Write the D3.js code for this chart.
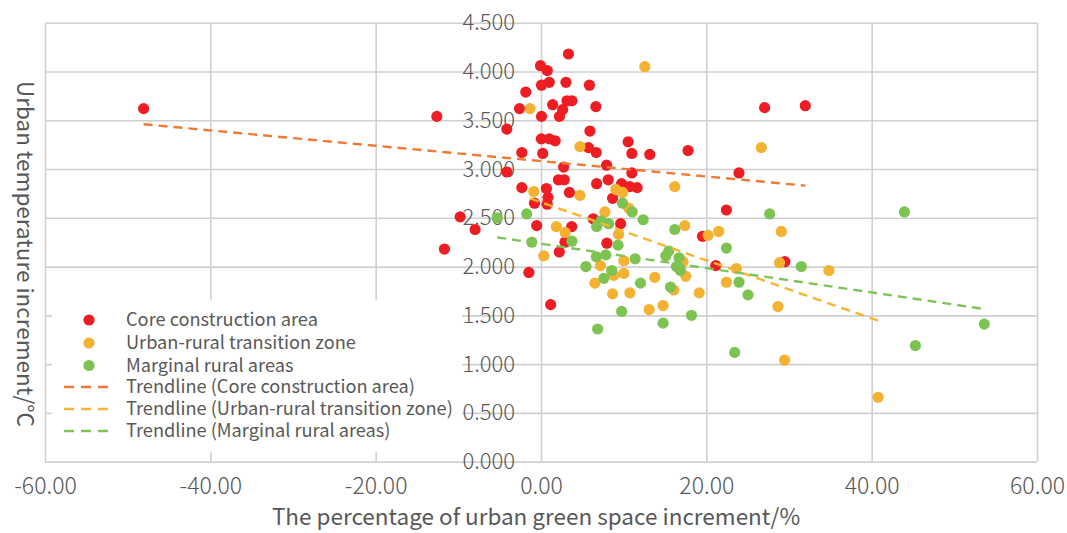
<!DOCTYPE html>
<html>
<head>
<meta charset="utf-8">
<script src="https://cdn.jsdelivr.net/npm/d3@7"></script>
<style>
  html, body { margin: 0; padding: 0; background: #fff; }
  svg { display: block; font-family: "Noto Sans CJK SC", "Noto Sans", sans-serif; }
</style>
</head>
<body>
<svg id="chart" width="1067" height="533"></svg>
<script>
// Core construction area: [green space increment %, temperature increment °C]
const coreArea = [
  [-48.07,3.62],[-12.60,3.54],[3.32,4.18],[-0.06,4.06],[0.76,4.01],[-1.84,3.79],[1.00,3.89],
  [0.06,3.86],[3.02,3.89],[5.86,3.86],[3.14,3.70],[3.74,3.70],[1.41,3.66],[-2.60,3.62],
  [2.62,3.61],[6.64,3.64],[2.23,3.54],[0.06,3.54],[-4.14,3.41],[5.92,3.39],[0.04,3.31],
  [1.00,3.31],[1.71,3.29],[5.74,3.22],[6.68,3.17],[-2.32,3.17],[0.21,3.16],[10.54,3.28],
  [10.99,3.16],[13.16,3.15],[17.79,3.19],[27.05,3.63],[31.97,3.65],[2.74,3.02],[7.93,3.04],
  [23.95,2.96],[10.99,2.96],[-4.14,2.97],[2.11,2.89],[2.81,2.89],[6.73,2.85],[8.13,2.89],
  [9.75,2.85],[10.75,2.82],[11.63,2.81],[-2.32,2.81],[0.66,2.80],[3.44,2.76],[0.85,2.71],
  [8.66,2.70],[-0.79,2.65],[0.75,2.64],[-9.78,2.51],[-7.97,2.38],[-11.68,2.18],[-0.52,2.42],
  [3.71,2.41],[6.32,2.49],[9.63,2.44],[22.43,2.58],[2.90,2.25],[7.97,2.24],[2.21,2.15],
  [19.53,2.31],[21.14,2.01],[29.50,2.05],[-1.47,1.94],[1.17,1.61]
];

// Urban-rural transition zone
const transitionZone = [
  [-1.33,3.62],[12.56,4.05],[4.71,3.23],[26.65,3.22],[-0.87,2.77],[4.71,2.73],[9.06,2.79],
  [9.87,2.76],[16.18,2.82],[10.59,2.60],[7.73,2.56],[1.85,2.41],[2.92,2.35],[9.38,2.33],
  [17.39,2.42],[20.21,2.32],[21.50,2.36],[29.07,2.36],[0.34,2.11],[10.02,2.06],[7.19,2.01],
  [17.19,2.05],[23.64,1.98],[28.86,2.04],[34.82,1.96],[10.02,1.93],[8.82,1.91],[13.77,1.89],
  [17.51,1.90],[6.52,1.83],[22.43,1.84],[8.66,1.72],[10.75,1.73],[16.06,1.76],[19.14,1.73],
  [13.08,1.56],[14.77,1.60],[28.66,1.59],[29.47,1.04],[40.78,0.66]
];

// Marginal rural areas
const marginalRural = [
  [-5.31,2.50],[-1.73,2.54],[-1.11,2.25],[3.74,2.26],[9.87,2.65],[11.03,2.56],[12.36,2.48],
  [7.28,2.47],[8.19,2.44],[6.73,2.41],[9.32,2.22],[6.70,2.10],[7.85,2.12],[11.39,2.08],
  [16.18,2.38],[15.10,2.11],[15.46,2.16],[16.70,2.09],[16.39,2.00],[16.87,1.96],[22.43,2.19],
  [27.66,2.54],[43.96,2.56],[31.49,2.00],[23.95,1.84],[25.04,1.71],[5.43,2.00],[8.55,1.96],
  [7.61,1.88],[12.04,1.83],[15.66,1.79],[9.75,1.54],[6.85,1.36],[14.77,1.42],[18.20,1.50],
  [23.43,1.12],[45.29,1.19],[53.62,1.41]
];

// Linear trendline end points: [x0, y0, x1, y1]
const trendCore = [-48.07, 3.46, 31.97, 2.83];
const trendTransition = [-1.33, 2.70, 40.78, 1.445];
const trendMarginal = [-5.31, 2.30, 53.62, 1.565];

// Tick values
const xTicks = [-60, -40, -20, 0, 20, 40, 60];
const yTicks = [0, 0.5, 1, 1.5, 2, 2.5, 3, 3.5, 4, 4.5];

const seriesNames = [
  "Core construction area",
  "Urban-rural transition zone",
  "Marginal rural areas"
];
const trendNames = [
  "Trendline (Core construction area)",
  "Trendline (Urban-rural transition zone)",
  "Trendline (Marginal rural areas)"
];

const dotColors = ["#EE1D23", "#F5B131", "#7DC352"];
const lineColors = ["#EE7A35", "#F8B530", "#7EC45A"];
const textColor = "#585858";
const fontStack = "'Noto Sans CJK SC', 'Noto Sans', sans-serif";

const svg = d3.select("#chart");

const x = d3.scaleLinear().domain([-60, 60]).range([45, 1037]);
const y = d3.scaleLinear().domain([0, 4.5]).range([461.6, 22.8]);

// Gridlines
const gridX = svg.append("g")
  .attr("transform", `translate(0,${y(0)})`)
  .call(d3.axisBottom(x).tickValues(xTicks).tickSize(-(y(0) - y(4.5))).tickFormat(""));
const gridY = svg.append("g")
  .attr("transform", `translate(${x(-60)},0)`)
  .call(d3.axisLeft(y).tickValues(yTicks).tickSize(-(x(60) - x(-60))).tickFormat(""));
[gridX, gridY].forEach(g => {
  g.select(".domain").remove();
  g.selectAll(".tick line").attr("stroke", "#d0d0d0").attr("stroke-width", 1.6);
});

// X tick labels
const xAxis = svg.append("g")
  .attr("transform", `translate(0,${y(0)})`)
  .call(d3.axisBottom(x).tickValues(xTicks).tickSize(0).tickPadding(16)
    .tickFormat(d => d.toFixed(2)));
xAxis.select(".domain").remove();
xAxis.selectAll("text")
  .attr("font-size", 23).attr("fill", textColor)
  .attr("font-family", fontStack)
  .attr("font-weight", 300);

// Y tick labels sit beside the x = 0 gridline
const yAxis = svg.append("g")
  .attr("transform", `translate(${x(0)},0)`)
  .call(d3.axisLeft(y).tickValues(yTicks).tickSize(0).tickPadding(26)
    .tickFormat(d => d.toFixed(3)));
yAxis.select(".domain").remove();
yAxis.selectAll("text")
  .attr("font-size", 22).attr("fill", textColor)
  .attr("font-family", fontStack)
  .attr("font-weight", 300);

// Scatter points
const allSeries = [coreArea, transitionZone, marginalRural];
allSeries.forEach((data, i) => {
  svg.append("g").selectAll("circle")
    .data(data)
    .join("circle")
    .attr("cx", d => x(d[0]))
    .attr("cy", d => y(d[1]))
    .attr("r", 5.6)
    .attr("fill", dotColors[i]);
});

// Trendlines
[trendCore, trendTransition, trendMarginal].forEach((t, i) => {
  svg.append("line")
    .attr("x1", x(t[0])).attr("y1", y(t[1]))
    .attr("x2", x(t[2])).attr("y2", y(t[3]))
    .attr("stroke", lineColors[i])
    .attr("stroke-width", 2.4)
    .attr("stroke-dasharray", "9,6");
});

// Legend
const legend = svg.append("g");
legend.append("rect")
  .attr("x", 52).attr("y", 300).attr("width", 410).attr("height", 152)
  .attr("fill", "#fff");
const rowY = [320, 343, 365.5, 387, 409, 431];
const labels = seriesNames.concat(trendNames);
labels.forEach((name, i) => {
  const ry = rowY[i];
  if (i < 3) {
    legend.append("circle").attr("cx", 89).attr("cy", ry).attr("r", 5.6)
      .attr("fill", dotColors[i]);
  } else {
    legend.append("line")
      .attr("x1", 64).attr("x2", 114).attr("y1", ry).attr("y2", ry)
      .attr("stroke", lineColors[i - 3]).attr("stroke-width", 2.4)
      .attr("stroke-dasharray", "10,7");
  }
  legend.append("text")
    .attr("x", 126).attr("y", ry).attr("dy", "0.35em")
    .attr("font-size", 18.2).attr("fill", textColor)
    .text(name);
});

// Axis titles
svg.append("text")
  .attr("transform", "translate(25,254) rotate(90)")
  .attr("text-anchor", "middle").attr("dy", "0.35em")
  .attr("font-size", 22.5).attr("fill", textColor)
  .text("Urban temperature increment/°C");

svg.append("text")
  .attr("x", 536).attr("y", 517).attr("dy", "0.35em")
  .attr("text-anchor", "middle")
  .attr("font-size", 22.5).attr("fill", textColor)
  .text("The percentage of urban green space increment/%");
</script>
</body>
</html>
